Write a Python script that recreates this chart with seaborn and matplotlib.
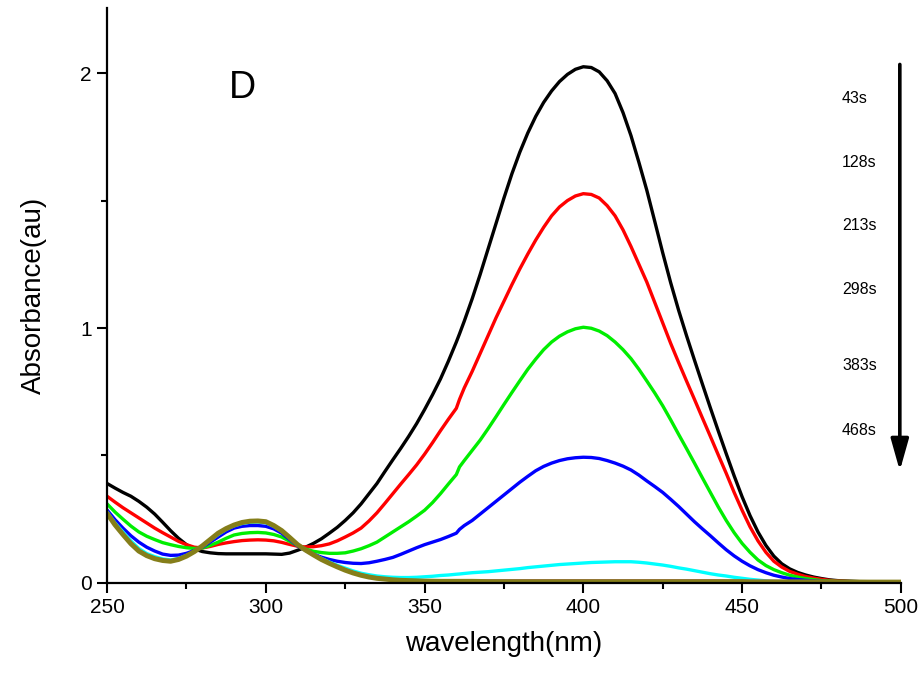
import numpy as np
import pandas as pd
import matplotlib
matplotlib.use("Agg")
import matplotlib.pyplot as plt
import seaborn as sns

wavelength = [250, 252.5, 255, 257.5, 260, 262.5, 265, 267.5, 270, 272.5,
              275, 277.5, 280, 282.5, 285, 287.5, 290, 292.5, 295, 297.5,
              300, 302.5, 305, 307.5, 310, 312.5, 315, 317.5, 320, 322.5,
              325, 327.5, 330, 332.5, 335, 337.5, 340, 342.5, 345, 347.5,
              350, 352.5, 355, 357.5, 360, 361, 362.5, 365, 367.5, 370,
              372.5, 375, 377.5, 380, 382.5, 385, 387.5, 390, 392.5, 395,
              397.5, 400, 402.5, 405, 407.5, 410, 412.5, 415, 417.5, 420,
              422.5, 425, 427.5, 430, 432.5, 435, 437.5, 440, 442.5, 445,
              447.5, 450, 452.5, 455, 457.5, 460, 462.5, 465, 467.5, 470,
              472.5, 475, 477.5, 480, 490, 500]

abs_43s = [0.39, 0.372, 0.355, 0.34, 0.32, 0.297, 0.27, 0.238, 0.205, 0.175,
           0.15, 0.133, 0.123, 0.118, 0.115, 0.114, 0.114, 0.114, 0.114, 0.114,
           0.114, 0.113, 0.112, 0.117, 0.128, 0.14, 0.155, 0.173, 0.195, 0.218,
           0.245, 0.275, 0.31, 0.35, 0.39, 0.437, 0.483, 0.528, 0.575, 0.625,
           0.68, 0.738, 0.80, 0.87, 0.945, 0.977, 1.027, 1.115, 1.21, 1.31,
           1.41, 1.51, 1.605, 1.69, 1.765, 1.83, 1.885, 1.93, 1.967, 1.995,
           2.015, 2.025, 2.022, 2.005, 1.97, 1.92, 1.845, 1.755, 1.65, 1.54,
           1.418, 1.295, 1.178, 1.07, 0.97, 0.874, 0.78, 0.687, 0.596, 0.507,
           0.42, 0.338, 0.264, 0.20, 0.147, 0.105, 0.075, 0.055, 0.041, 0.031,
           0.023, 0.017, 0.012, 0.009, 0.003, 0.001]

abs_128s = [0.34, 0.317, 0.295, 0.275, 0.255, 0.235, 0.215, 0.197, 0.18, 0.163,
            0.15, 0.14, 0.137, 0.143, 0.151, 0.157, 0.162, 0.166, 0.168, 0.169,
            0.168, 0.165, 0.159, 0.151, 0.144, 0.141, 0.142, 0.146, 0.153, 0.165,
            0.18, 0.196, 0.215, 0.243, 0.275, 0.312, 0.35, 0.388, 0.425, 0.463,
            0.505, 0.55, 0.597, 0.642, 0.685, 0.72, 0.765, 0.83, 0.90, 0.97,
            1.04, 1.105, 1.17, 1.232, 1.29, 1.345, 1.395, 1.44, 1.475, 1.50,
            1.518, 1.527, 1.524, 1.51, 1.48, 1.44, 1.385, 1.32, 1.25, 1.18,
            1.10, 1.02, 0.94, 0.865, 0.792, 0.72, 0.647, 0.575, 0.502, 0.43,
            0.355, 0.285, 0.22, 0.165, 0.12, 0.085, 0.062, 0.045, 0.034, 0.025,
            0.019, 0.014, 0.01, 0.007, 0.002, 0.001]

abs_213s = [0.31, 0.278, 0.25, 0.223, 0.20, 0.183, 0.17, 0.158, 0.15, 0.143,
            0.138, 0.135, 0.137, 0.147, 0.16, 0.175, 0.188, 0.194, 0.197, 0.198,
            0.196, 0.19, 0.18, 0.163, 0.146, 0.133, 0.124, 0.119, 0.116, 0.116,
            0.118, 0.125, 0.134, 0.146, 0.16, 0.18, 0.20, 0.22, 0.24, 0.262,
            0.285, 0.315, 0.35, 0.388, 0.425, 0.455, 0.48, 0.52, 0.56, 0.605,
            0.652, 0.70, 0.747, 0.793, 0.838, 0.878, 0.915, 0.945, 0.968, 0.985,
            0.997, 1.003, 0.999, 0.988, 0.97, 0.945, 0.915, 0.88, 0.838, 0.792,
            0.745, 0.695, 0.64, 0.583, 0.527, 0.47, 0.412, 0.355, 0.298, 0.245,
            0.197, 0.155, 0.12, 0.09, 0.068, 0.052, 0.04, 0.03, 0.023, 0.017,
            0.013, 0.009, 0.007, 0.005, 0.002, 0.001]

abs_298s = [0.286, 0.248, 0.215, 0.185, 0.16, 0.14, 0.125, 0.113, 0.108, 0.109,
            0.116, 0.127, 0.14, 0.16, 0.18, 0.20, 0.215, 0.222, 0.225, 0.225,
            0.222, 0.212, 0.195, 0.17, 0.145, 0.128, 0.113, 0.101, 0.092, 0.085,
            0.08, 0.077, 0.076, 0.079, 0.085, 0.092, 0.10, 0.112, 0.125, 0.138,
            0.15, 0.16, 0.17, 0.182, 0.195, 0.21, 0.225, 0.245, 0.27, 0.295,
            0.32, 0.345, 0.37, 0.395, 0.418, 0.44, 0.457, 0.47, 0.48, 0.487,
            0.491, 0.493, 0.492, 0.488, 0.48, 0.47, 0.458, 0.443, 0.423, 0.40,
            0.378, 0.355, 0.328, 0.30, 0.27, 0.24, 0.212, 0.185, 0.157, 0.13,
            0.106, 0.085, 0.067, 0.052, 0.04, 0.03, 0.023, 0.017, 0.013, 0.01,
            0.008, 0.006, 0.005, 0.004, 0.002, 0.001]

abs_383s = [0.278, 0.235, 0.20, 0.165, 0.135, 0.115, 0.103, 0.094, 0.09, 0.096,
            0.108, 0.124, 0.143, 0.167, 0.19, 0.21, 0.224, 0.233, 0.238, 0.239,
            0.236, 0.222, 0.203, 0.177, 0.15, 0.13, 0.112, 0.096, 0.082, 0.069,
            0.058, 0.047, 0.038, 0.032, 0.027, 0.024, 0.022, 0.021, 0.021, 0.022,
            0.024, 0.026, 0.029, 0.031, 0.034, 0.035, 0.037, 0.04, 0.042, 0.044,
            0.047, 0.05, 0.053, 0.056, 0.06, 0.063, 0.066, 0.069, 0.072, 0.074,
            0.076, 0.078, 0.08, 0.081, 0.082, 0.083, 0.083, 0.083, 0.081, 0.078,
            0.074, 0.07, 0.065, 0.059, 0.054, 0.048, 0.042, 0.036, 0.031, 0.027,
            0.022, 0.018, 0.014, 0.011, 0.008, 0.006, 0.005, 0.004, 0.0035, 0.003,
            0.0025, 0.002, 0.002, 0.002, 0.001, 0.001]

abs_468s = [0.275, 0.23, 0.193, 0.157, 0.128, 0.109, 0.097, 0.089, 0.086, 0.093,
            0.106, 0.124, 0.145, 0.17, 0.194, 0.213, 0.227, 0.236, 0.241, 0.242,
            0.239, 0.224, 0.204, 0.177, 0.15, 0.129, 0.11, 0.093, 0.078, 0.064,
            0.051, 0.04, 0.031, 0.025, 0.02, 0.017, 0.014, 0.012, 0.011, 0.01,
            0.01, 0.01, 0.01, 0.01, 0.01, 0.01, 0.01, 0.01, 0.01, 0.01,
            0.01, 0.01, 0.01, 0.01, 0.01, 0.01, 0.01, 0.01, 0.01, 0.01,
            0.01, 0.01, 0.01, 0.01, 0.01, 0.01, 0.01, 0.01, 0.01, 0.01,
            0.01, 0.01, 0.01, 0.01, 0.01, 0.01, 0.01, 0.01, 0.0095, 0.009,
            0.009, 0.009, 0.0085, 0.008, 0.008, 0.008, 0.0075, 0.007, 0.007, 0.007,
            0.0065, 0.006, 0.006, 0.006, 0.005, 0.004]

abs_final = [0.273, 0.228, 0.19, 0.154, 0.125, 0.107, 0.095, 0.088, 0.085, 0.092,
             0.105, 0.123, 0.145, 0.17, 0.195, 0.213, 0.227, 0.237, 0.242, 0.243,
             0.24, 0.225, 0.205, 0.178, 0.15, 0.129, 0.11, 0.092, 0.077, 0.063,
             0.05, 0.039, 0.03, 0.023, 0.018, 0.015, 0.012, 0.01, 0.009, 0.008,
             0.007, 0.0065, 0.006, 0.006, 0.006, 0.006, 0.006, 0.006, 0.0055, 0.005,
             0.005, 0.005, 0.005, 0.005, 0.005, 0.005, 0.005, 0.005, 0.005, 0.005,
             0.005, 0.005, 0.005, 0.005, 0.005, 0.005, 0.005, 0.005, 0.005, 0.005,
             0.005, 0.005, 0.005, 0.005, 0.005, 0.005, 0.005, 0.005, 0.005, 0.005,
             0.005, 0.005, 0.004, 0.004, 0.004, 0.004, 0.004, 0.004, 0.004, 0.004,
             0.004, 0.004, 0.004, 0.004, 0.003, 0.003]

series_names = ["43s", "128s", "213s", "298s", "383s", "468s", "final"]
series_values = [abs_43s, abs_128s, abs_213s, abs_298s, abs_383s, abs_468s, abs_final]
series_colors = ["#000000", "#ff0000", "#00ee00", "#0000ff", "#00ffff", "#ff00ff", "#857e1a"]
series_widths = [2.4, 2.4, 2.4, 2.4, 2.4, 1.6, 3.6]

time_labels = ["43s", "128s", "213s", "298s", "383s", "468s"]
time_label_y = [0.843, 0.732, 0.621, 0.510, 0.379, 0.266]

for v in series_values:
    assert len(v) == len(wavelength)

sns.set_theme(style="ticks")
plt.rcParams["font.family"] = ["Liberation Sans", "DejaVu Sans"]
plt.rcParams["text.color"] = "black"
plt.rcParams["axes.labelcolor"] = "black"
plt.rcParams["xtick.color"] = "black"
plt.rcParams["ytick.color"] = "black"
plt.rcParams["lines.solid_joinstyle"] = "round"
plt.rcParams["lines.solid_capstyle"] = "round"

fig = plt.figure(figsize=(9.23, 6.77), dpi=100)
ax = fig.add_axes([0.116, 0.139, 0.860, 0.849])

for name, vals, col, lw in zip(series_names, series_values, series_colors, series_widths):
    df = pd.DataFrame({"wavelength": wavelength, "absorbance": vals})
    sns.lineplot(data=df, x="wavelength", y="absorbance", color=col, linewidth=lw,
                 ax=ax, sort=False, legend=False)

ax.set_xlim(250, 500)
ax.set_ylim(0, 2.255)
ax.set_xticks([250, 300, 350, 400, 450, 500])
ax.set_xticks([275, 325, 375, 425, 475], minor=True)
ax.set_yticks([0, 1, 2])
ax.set_yticks([0.5, 1.5], minor=True)
ax.tick_params(axis="both", which="major", direction="out", length=7, width=1.5,
               labelsize=15, colors="black", labelcolor="black", pad=4)
ax.tick_params(axis="both", which="minor", direction="out", length=4, width=1.5, colors="black")
for side in ["top", "right"]:
    ax.spines[side].set_visible(False)
for side in ["left", "bottom"]:
    ax.spines[side].set_linewidth(1.6)
    ax.spines[side].set_color("black")

ax.set_xlabel("wavelength(nm)", fontsize=20, labelpad=10, color="black")
ax.set_ylabel("Absorbance(au)", fontsize=20, labelpad=24, color="black")

ax.text(0.171, 0.861, "D", transform=ax.transAxes, fontsize=27, ha="center", va="center",
        color="black")
for lab, yy in zip(time_labels, time_label_y):
    ax.text(0.926, yy, lab, transform=ax.transAxes, fontsize=11.5, ha="left", va="center",
            color="black")

ax.annotate("", xy=(0.9987, 0.195), xytext=(0.9987, 0.902), xycoords="axes fraction",
            textcoords="axes fraction",
            arrowprops=dict(arrowstyle="-|>,head_length=1.6,head_width=0.45", color="black",
                            lw=2.6, shrinkA=0, shrinkB=0))

fig.savefig("out.png", dpi=100)
